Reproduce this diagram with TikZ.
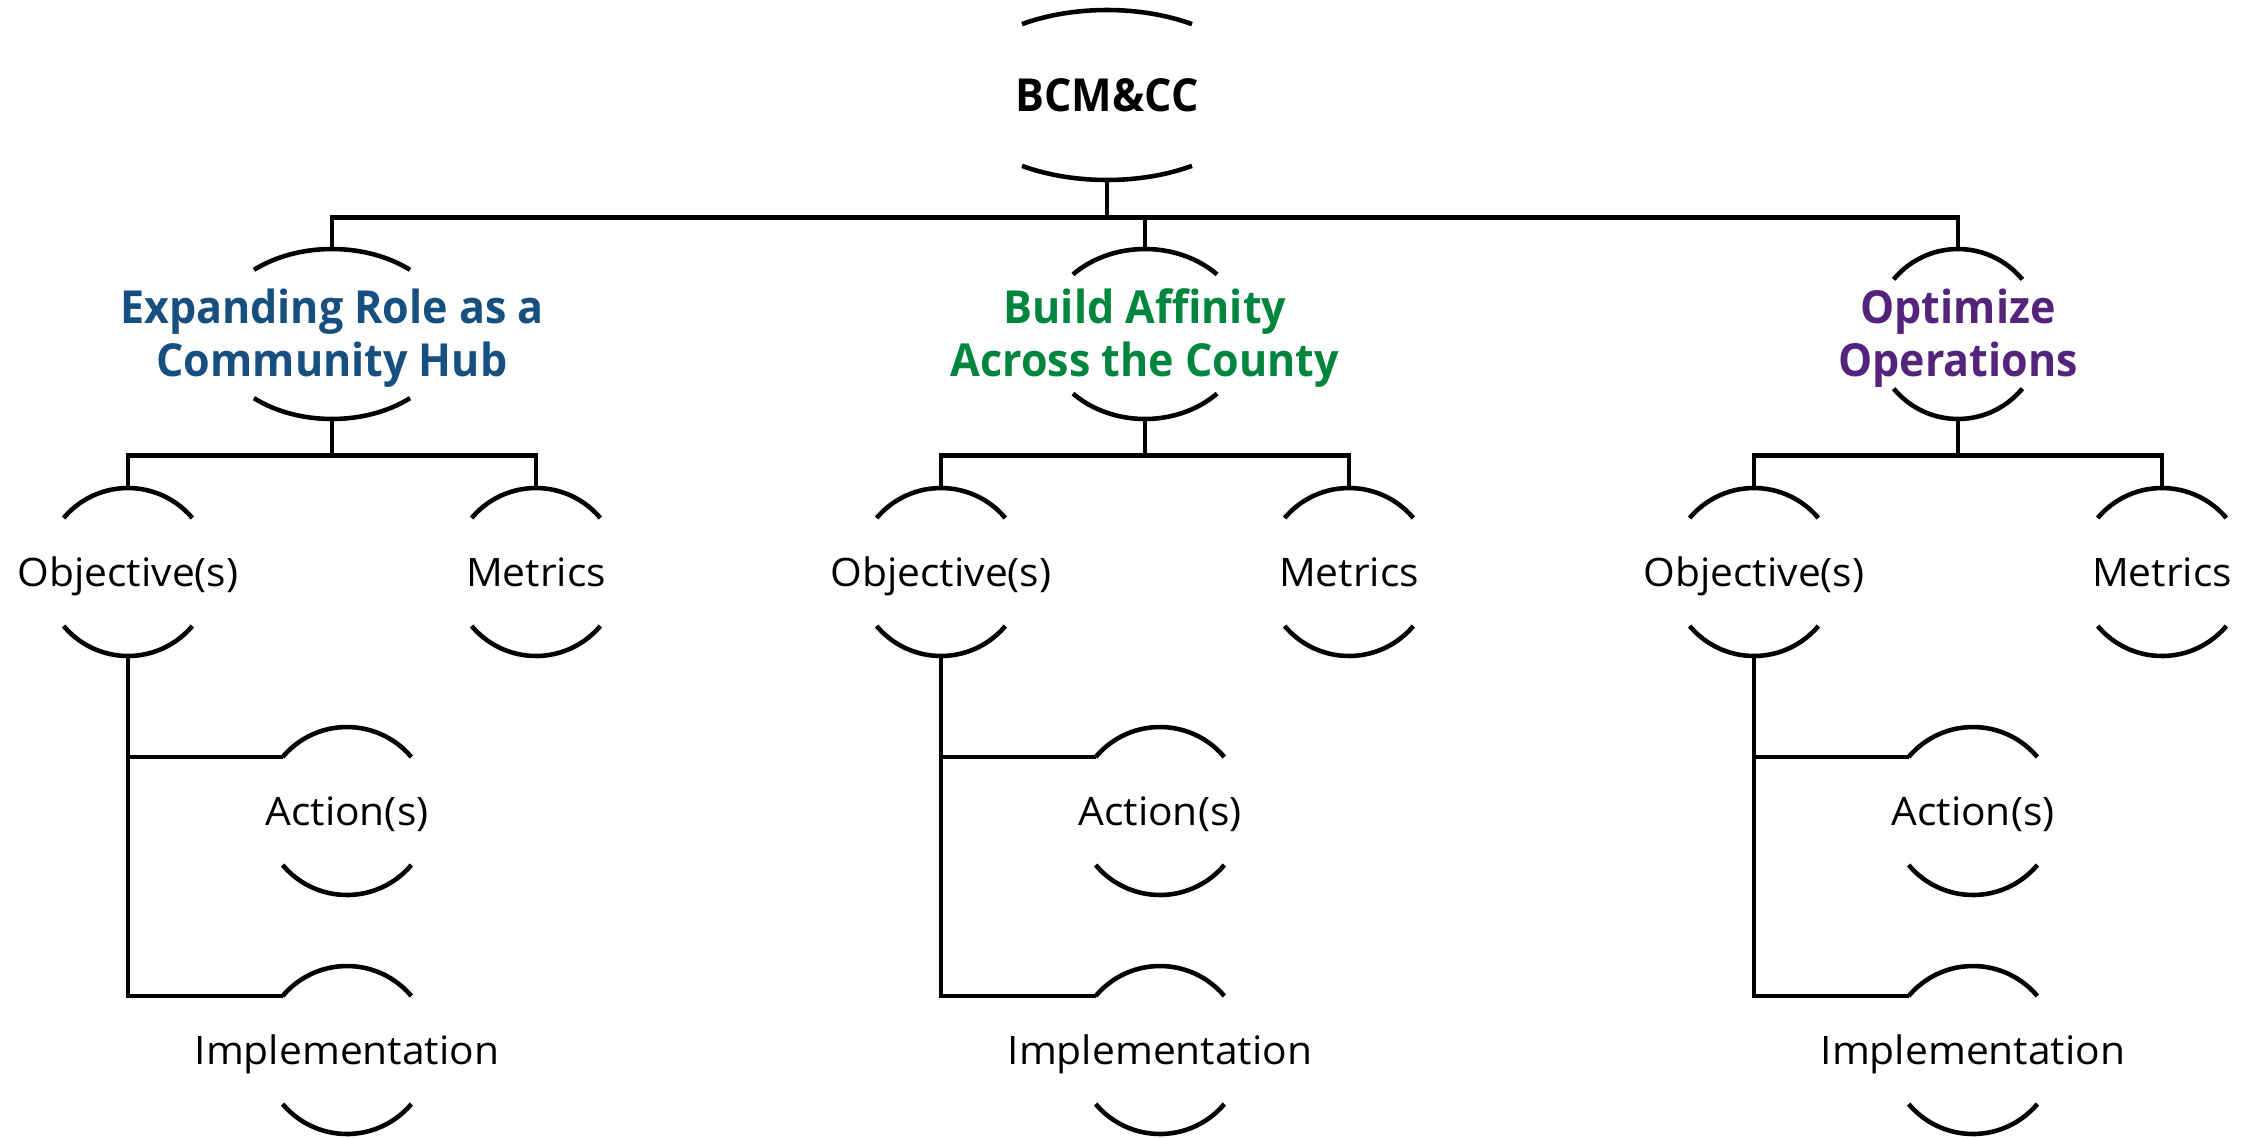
\documentclass[tikz,border=0pt]{standalone}
\usepackage{fontspec}
\setmainfont{Open Sans}[FakeStretch=1.04, BoldFeatures={FakeStretch=0.945}]
\usetikzlibrary{positioning}
\definecolor{hubblue}{HTML}{174F80}
\definecolor{affgreen}{HTML}{00853F}
\definecolor{opspurple}{HTML}{54247D}
% top and bottom arc of an elliptic frame round a node: name, x radius, y radius, angle
\newcommand{\arcpair}[4]{%
  \draw ([shift={(#4:#2 and #3)}]#1.center) arc[start angle=#4, end angle=180-#4, x radius=#2, y radius=#3];
  \draw ([shift={(-#4:#2 and #3)}]#1.center) arc[start angle=-#4, end angle=-180+#4, x radius=#2, y radius=#3];}

\begin{document}
\begin{tikzpicture}[on grid, line width=1.3pt,
  head/.style={rectangle, inner sep=0pt, minimum height=1.7cm, align=center,
    font=\bfseries\fontsize{12.95}{15.08}\selectfont, text height=0.855cm, text depth=0pt},
  leaf/.style={rectangle, inner sep=0pt, minimum height=1.68cm,
    font=\fontsize{11.15}{13}\selectfont, text height=0.28cm, text depth=0pt}]
\useasboundingbox (0,0) rectangle (22.51,-11.37);
\node (root) [head, text height=0.325cm] at (11.07,-0.95) {BCM\&CC};
\node (green) [head, text=affgreen] at (11.45,-3.34) {Build Affinity\\Across the County};
\node (blue) [head, text=hubblue, left=8.13cm of green] {Expanding Role as a\\Community Hub};
\node (purple) [head, text=opspurple, right=8.13cm of green] {Optimize\\Operations};
\arcpair{root}{1.54cm}{0.85cm}{56.5}
\draw (root.south) -- ++(0,-0.35) coordinate (bar);
\draw (blue.north) |- (bar) -| (purple.north);
\draw (green.north) -- (green.north |- bar);
\foreach \h/\a/\t in {blue/1.19cm/49, green/1.01cm/44.5, purple/0.84cm/40} {
  \arcpair{\h}{\a}{0.85cm}{\t}
  \node (\h-obj) [leaf, below left=2.38cm and 2.04cm of \h] {Objective(s)};
  \node (\h-met) [leaf, below right=2.38cm and 2.04cm of \h] {Metrics};
  \node (\h-act) [leaf, below right=2.39cm and 2.19cm of \h-obj] {Action(s)};
  \node (\h-imp) [leaf, below=2.39cm of \h-act] {Implementation};
  \foreach \n in {obj, met, act, imp} {\arcpair{\h-\n}{0.84cm}{0.84cm}{40}}
  \draw (\h.south) -- ++(0,-0.34) coordinate (\h-bar);
  \draw (\h-obj.north) |- (\h-bar) -| (\h-met.north);
  \draw (\h-obj.south) |- ([shift={(140:0.84cm)}]\h-act.center);
  \draw (\h-obj.south) |- ([shift={(140:0.84cm)}]\h-imp.center);
}
\end{tikzpicture}
\end{document}
